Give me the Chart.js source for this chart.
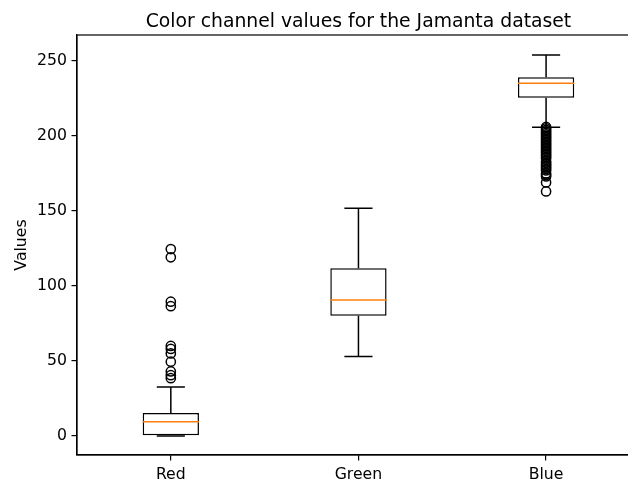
<!DOCTYPE html>
<html>
<head>
<meta charset="utf-8">
<script src="https://cdn.jsdelivr.net/npm/chart.js@4"></script>
<style>
  html, body { margin: 0; padding: 0; overflow: hidden; background: #fff; }
  #wrap { width: 646px; height: 484px; }
</style>
</head>
<body>
<div id="wrap"><canvas id="boxChart" width="646" height="484"></canvas></div>
<script>
const channels = ["Red", "Green", "Blue"];
const q1 = [0, 80.2, 225.5];
const q3 = [15.3, 111.8, 239.1];
const medians = [9.5, 90.7, 235.1];
const whiskerLow = [0, 52.9, 205.8];
const whiskerHigh = [32.6, 151.8, 254];

const redOutliers = [124.6, 119.1, 89.5, 86.5, 60, 58, 55, 49.5, 43, 40.5, 38.5];
const greenOutliers = [];
const blueOutliers = [
  206, 205, 204, 203, 202, 201, 200, 199, 198, 197, 196, 195, 194, 193,
  192, 191, 190, 189, 188, 187, 186, 185, 183, 182, 181, 180, 179, 178,
  177, 175, 174, 173, 169, 163
];

const yTicks = [0, 50, 100, 150, 200, 250];
const yMin = -12.7;
const yMax = 267.3;

const font = "'DejaVu Sans', sans-serif";
const lw = 1.5;

const outlierPoints = [];
[redOutliers, greenOutliers, blueOutliers].forEach((list, i) => {
  list.forEach(v => outlierPoints.push({ x: channels[i], y: v }));
});

// whiskers, caps, medians, frame and title drawn with the chart's own scales
const boxExtras = {
  id: "boxExtras",
  afterDatasetsDraw(chart) {
    const ctx = chart.ctx;
    const xs = chart.scales.x;
    const ys = chart.scales.y;
    const unit = xs.getPixelForValue(1) - xs.getPixelForValue(0);
    const capHalf = unit * 0.075;
    const boxHalf = unit * 0.15;

    ctx.save();
    ctx.lineWidth = lw;
    for (let i = 0; i < channels.length; i++) {
      const cx = xs.getPixelForValue(i);
      ctx.strokeStyle = "#000";
      ctx.beginPath();
      ctx.moveTo(cx, ys.getPixelForValue(q3[i]));
      ctx.lineTo(cx, ys.getPixelForValue(whiskerHigh[i]));
      ctx.moveTo(cx, ys.getPixelForValue(q1[i]));
      ctx.lineTo(cx, ys.getPixelForValue(whiskerLow[i]));
      ctx.moveTo(cx - capHalf, ys.getPixelForValue(whiskerHigh[i]));
      ctx.lineTo(cx + capHalf, ys.getPixelForValue(whiskerHigh[i]));
      ctx.moveTo(cx - capHalf, ys.getPixelForValue(whiskerLow[i]));
      ctx.lineTo(cx + capHalf, ys.getPixelForValue(whiskerLow[i]));
      ctx.stroke();

      ctx.strokeStyle = "#ff7f0e";
      ctx.beginPath();
      ctx.moveTo(cx - boxHalf, ys.getPixelForValue(medians[i]));
      ctx.lineTo(cx + boxHalf, ys.getPixelForValue(medians[i]));
      ctx.stroke();
    }

    const a = chart.chartArea;
    ctx.strokeStyle = "#000";
    ctx.lineWidth = 1.2;
    ctx.strokeRect(a.left, a.top, a.right - a.left, a.bottom - a.top);

    ctx.fillStyle = "#000";
    ctx.font = "18.8px " + font;
    ctx.textAlign = "center";
    ctx.textBaseline = "alphabetic";
    ctx.fillText("Color channel values for the Jamanta dataset", (a.left + a.right) / 2, 27);
    ctx.restore();
  }
};

new Chart(document.getElementById("boxChart"), {
  type: "bar",
  data: {
    labels: channels,
    datasets: [
      {
        type: "bar",
        data: channels.map((c, i) => [q1[i], q3[i]]),
        backgroundColor: "#ffffff",
        borderColor: "#000000",
        borderWidth: lw,
        borderSkipped: false,
        barPercentage: 0.3,
        categoryPercentage: 1.0,
        order: 2
      },
      {
        type: "line",
        data: outlierPoints,
        showLine: false,
        pointStyle: "circle",
        pointRadius: 4.6,
        pointBorderWidth: lw,
        pointBorderColor: "#000000",
        pointBackgroundColor: "rgba(0,0,0,0)",
        order: 1
      }
    ]
  },
  options: {
    responsive: false,
    animation: false,
    layout: { padding: { top: 35, left: 0, right: 0, bottom: 0 } },
    plugins: {
      legend: { display: false },
      title: { display: false },
      tooltip: { enabled: false }
    },
    scales: {
      x: {
        type: "category",
        offset: true,
        grid: {
          display: true,
          drawOnChartArea: false,
          drawTicks: true,
          tickLength: 5.5,
          color: "#000",
          lineWidth: 1.2,
          offset: false
        },
        border: { display: true, color: "#000", width: 1.2 },
        ticks: {
          color: "#000",
          padding: 5,
          font: { family: font, size: 15.7 }
        },
        afterFit(scale) { scale.height = 29; }
      },
      y: {
        type: "linear",
        min: yMin,
        max: yMax,
        afterBuildTicks(scale) { scale.ticks = yTicks.map(v => ({ value: v })); },
        grid: {
          display: true,
          drawOnChartArea: false,
          drawTicks: true,
          tickLength: 5.5,
          color: "#000",
          lineWidth: 1.2
        },
        border: { display: true, color: "#000", width: 1.2 },
        ticks: {
          color: "#000",
          padding: 4.5,
          font: { family: font, size: 15.7 }
        },
        title: {
          display: true,
          text: "Values",
          color: "#000",
          padding: { top: 13, bottom: 0 },
          font: { family: font, size: 15.7 }
        },
        afterFit(scale) { scale.width = 77; }
      }
    }
  },
  plugins: [boxExtras]
});
</script>
</body>
</html>
